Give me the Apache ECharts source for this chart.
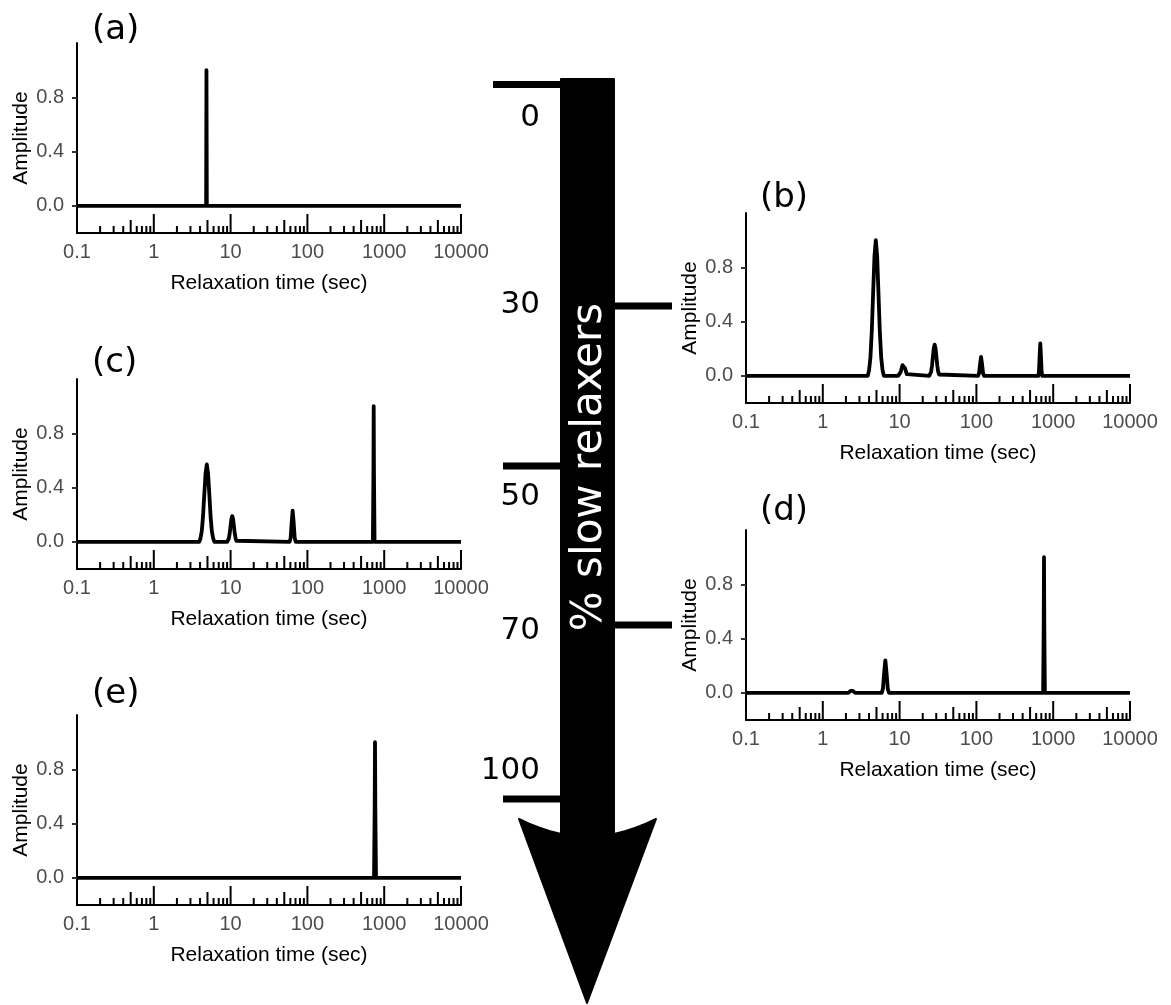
<!DOCTYPE html>
<html>
<head>
<meta charset="utf-8">
<script src="https://cdn.jsdelivr.net/npm/echarts@6/dist/echarts.min.js"></script>
<style>
  html, body { margin: 0; padding: 0; background: #fff; }
  #chart { width: 1171px; height: 1005px; }
</style>
</head>
<body>
<div id="chart"></div>
<script>
// Relaxation-time spectra for five mixtures of fast and slow relaxers.

// Axis ticks and labels
const xTickLabels = ['0.1', '1', '10', '100', '1000', '10000'];
const yTickValues = [0, 0.4, 0.8];
const logDecades = [0.1, 1, 10, 100, 1000, 10000];
const logMinorSteps = [2, 3, 4, 5, 6, 7, 8, 9];

// Panel tags and the "% slow relaxers" scale
const panelTags = ['(a)', '(b)', '(c)', '(d)', '(e)'];
const slowPercentLabels = ['0', '30', '50', '70', '100'];

// Spectra: [relaxation time (sec), amplitude]
const spectrumA = [[0.1, 0], [4.8, 0], [4.85, 1.0], [4.9, 0], [10000, 0]];

const spectrumB = [[0.1, 0],
  [3.85, 0], [4.01, 0.044], [4.17, 0.135], [4.34, 0.325], [4.52, 0.607], [4.71, 0.882], [4.90, 1.0],
  [5.10, 0.882], [5.31, 0.607], [5.53, 0.325], [5.76, 0.135], [5.99, 0.044], [6.24, 0],
  [9.55, 0], [9.81, 0.004], [10.07, 0.012], [10.35, 0.029], [10.62, 0.055], [10.91, 0.079], [11.2, 0.09],
  [11.50, 0.079], [11.81, 0.055], [12.13, 0.029], [12.45, 0.012], [12.79, 0.004], [13.13, 0],
  [24.40, 0], [25.05, 0.010], [25.73, 0.031], [26.42, 0.075], [27.12, 0.140], [27.85, 0.203], [28.6, 0.23],
  [29.37, 0.203], [30.16, 0.140], [30.97, 0.075], [31.79, 0.031], [32.65, 0.010], [33.52, 0],
  [105.1, 0], [108.3, 0.019], [111.6, 0.085], [115, 0.14], [118.5, 0.085], [122.1, 0.019], [125.8, 0],
  [639.8, 0], [652.7, 0.032], [665.7, 0.146], [679, 0.24], [692.6, 0.146], [706.4, 0.032], [720.6, 0],
  [10000, 0]];

const spectrumC = [[0.1, 0],
  [3.90, 0], [4.05, 0.025], [4.21, 0.077], [4.37, 0.185], [4.54, 0.346], [4.72, 0.503], [4.90, 0.57],
  [5.09, 0.503], [5.29, 0.346], [5.49, 0.185], [5.70, 0.077], [5.93, 0.025], [6.15, 0],
  [9.02, 0], [9.25, 0.008], [9.49, 0.026], [9.73, 0.062], [9.98, 0.115], [10.24, 0.168], [10.5, 0.19],
  [10.77, 0.168], [11.05, 0.115], [11.33, 0.062], [11.62, 0.026], [11.92, 0.008], [12.22, 0],
  [58.8, 0], [60.6, 0.031], [62.4, 0.140], [64.3, 0.23], [66.3, 0.140], [68.3, 0.031], [70.3, 0],
  [712, 0], [724, 0.5], [730, 1.0], [736, 0.5], [749, 0],
  [10000, 0]];

const spectrumD = [[0.1, 0],
  [2.15, 0], [2.22, 0.003], [2.30, 0.015], [2.38, 0.025], [2.46, 0.015], [2.55, 0.003], [2.64, 0],
  [5.85, 0], [6.07, 0.032], [6.29, 0.146], [6.52, 0.24], [6.76, 0.146], [7.01, 0.032], [7.26, 0],
  [740, 0], [752, 0.5], [759, 1.0], [766, 0.5], [779, 0],
  [10000, 0]];

const spectrumE = [[0.1, 0], [737, 0], [751, 0.5], [759, 1.0], [767, 0.5], [782, 0], [10000, 0]];

const spectra = [spectrumA, spectrumB, spectrumC, spectrumD, spectrumE];

// ---- layout ----
const panelBoxes = [
  { left: 77, top: 43 },
  { left: 746, top: 213 },
  { left: 77, top: 379 },
  { left: 746, top: 530 },
  { left: 77, top: 715 }
];
const panelW = 384, panelH = 190;
const tagPos = [[92, 30], [760, 198], [92, 363], [760, 511], [92, 694]];

// log-tick rug: decades long, fives mid, the rest short
const logTickData = [];
logDecades.forEach((d, i) => {
  logTickData.push([d, 0]);
  if (i < logDecades.length - 1) {
    logMinorSteps.forEach(m => logTickData.push([+(d * m).toPrecision(6), m === 5 ? 1 : 2]));
  }
});
const logTickLen = [19, 13, 7];

const sansFont = 'Liberation Sans';
const tagFont = 'DejaVu Sans';

function xLabel(v) {
  const hit = xTickLabels.find(t => Math.abs(Math.log10(+t) - Math.log10(v)) < 1e-6);
  return hit || '';
}

const grid = [], xAxis = [], yAxis = [], series = [];
panelBoxes.forEach((b, i) => {
  grid.push({ left: b.left, top: b.top, width: panelW, height: panelH });
  xAxis.push({
    type: 'log', logBase: 10, gridIndex: i, min: 0.1, max: 10000,
    axisLine: { onZero: false, lineStyle: { color: '#000', width: 2 } },
    axisTick: { show: false },
    splitLine: { show: false },
    axisLabel: { color: '#4d4d4d', fontSize: 20, fontFamily: sansFont, margin: 9, formatter: xLabel },
    name: 'Relaxation time (sec)', nameLocation: 'middle', nameGap: 40,
    nameTextStyle: { color: '#000', fontSize: 21, fontFamily: sansFont }
  });
  yAxis.push({
    type: 'value', gridIndex: i, min: -0.2, max: 1.2,
    axisLine: { onZero: false, lineStyle: { color: '#000', width: 2 } },
    axisTick: { customValues: yTickValues, length: 5, lineStyle: { color: '#333', width: 2 } },
    axisLabel: { customValues: yTickValues, color: '#4d4d4d', fontSize: 20, fontFamily: sansFont, margin: 13,
                 formatter: v => v.toFixed(1) },
    splitLine: { show: false },
    name: 'Amplitude', nameLocation: 'middle', nameRotate: 90, nameGap: 45,
    nameTextStyle: { color: '#000', fontSize: 21, fontFamily: sansFont }
  });
  series.push({
    type: 'custom', xAxisIndex: i, yAxisIndex: i, silent: true, z: 1,
    data: logTickData,
    renderItem: (params, api) => {
      const p = api.coord([api.value(0), -0.2]);
      const len = logTickLen[api.value(1)];
      return {
        type: 'line',
        shape: { x1: p[0], y1: p[1], x2: p[0], y2: p[1] - len },
        style: { stroke: '#000', lineWidth: 2 }
      };
    }
  });
  series.push({
    type: 'line', xAxisIndex: i, yAxisIndex: i, z: 3,
    data: spectra[i], symbol: 'none', clip: false,
    lineStyle: { color: '#000', width: 3.8, join: 'round', cap: 'butt' }
  });
});

// ---- the "% slow relaxers" arrow with its scale marks ----
const graphic = [];
graphic.push({
  type: 'polygon', silent: true,
  shape: { points: [[561, 79], [614, 79], [614, 834], [624.9, 831.2], [635.5, 827.8], [645.9, 823.7], [656, 819],
                    [587, 1003], [519, 819], [529.1, 823.7], [539.5, 827.8], [550.1, 831.2], [561, 834]] },
  style: { fill: '#000', stroke: '#000', lineWidth: 2, lineJoin: 'round' }
});
const scaleMarks = [
  { x: 493, w: 68, y: 84.5 },
  { x: 614, w: 58, y: 306 },
  { x: 503, w: 58, y: 466 },
  { x: 614, w: 58, y: 625 },
  { x: 503, w: 58, y: 799 }
];
const scaleLabelY = [118, 305, 497, 631, 771];
scaleMarks.forEach((m, i) => {
  graphic.push({ type: 'rect', silent: true, shape: { x: m.x, y: m.y - 3.5, width: m.w, height: 7 }, style: { fill: '#000' } });
  graphic.push({
    type: 'text', silent: true, x: 540, y: scaleLabelY[i],
    style: { text: slowPercentLabels[i], fill: '#000', font: '31px "DejaVu Sans"',
             align: 'right', verticalAlign: 'middle', textAlign: 'right', textVerticalAlign: 'middle' }
  });
});
graphic.push({
  type: 'text', silent: true, x: 590, y: 467, rotation: Math.PI / 2,
  style: { text: '% slow relaxers', fill: '#fff', font: '42px "DejaVu Sans"',
           align: 'center', verticalAlign: 'middle', textAlign: 'center', textVerticalAlign: 'middle' }
});
panelTags.forEach((t, i) => {
  graphic.push({
    type: 'text', silent: true, x: tagPos[i][0], y: tagPos[i][1],
    style: { text: t, fill: '#000', font: '34px "' + tagFont + '"',
             align: 'left', verticalAlign: 'middle', textAlign: 'left', textVerticalAlign: 'middle' }
  });
});

const chart = echarts.init(document.getElementById('chart'), null, { renderer: 'canvas' });
chart.setOption({
  animation: false,
  backgroundColor: '#fff',
  grid, xAxis, yAxis, series, graphic
});
</script>
</body>
</html>
